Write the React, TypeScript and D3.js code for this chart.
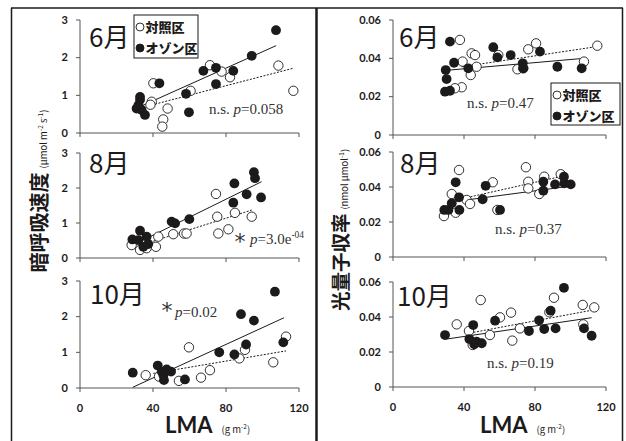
import React from 'react'
import * as d3 from 'd3'

// LMA (g m-2) vs value
const lmaTicks = [0, 40, 80, 120]
const respTicks = [0, 1, 2, 3]
const qyTicks = [0, 0.02, 0.04, 0.06]

const junRespCtrl = [[40.2, 1.32], [39.3, 0.83], [38.6, 0.75], [45.6, 0.36], [45.1, 0.17], [48.0, 0.65], [60.6, 1.12], [71.2, 1.8], [77.6, 1.63], [82.2, 1.48], [108.7, 1.79], [116.9, 1.12]]
const junRespOzone = [[32.9, 0.88], [32.0, 0.74], [31.0, 0.65], [32.9, 0.96], [33.8, 0.61], [35.6, 0.48], [43.5, 1.32], [58.1, 1.04], [59.7, 0.55], [67.6, 1.65], [74.5, 1.73], [74.5, 1.3], [84.0, 1.65], [94.1, 2.05], [107.4, 2.73]]
const junRespTrendCtrl = [[37.4, 0.72], [116.9, 1.72]]
const junRespTrendOzone = [[32.9, 0.7], [107.5, 2.32]]

const junQyCtrl = [[37.7, 0.0496], [39.2, 0.0383], [38.7, 0.0249], [34.9, 0.0244], [44.3, 0.0426], [46.2, 0.0417], [47.1, 0.0356], [43.8, 0.0313], [59.3, 0.0417], [70.1, 0.0343], [76.2, 0.0447], [80.6, 0.0478], [107.6, 0.0383], [115.1, 0.0466], [73.4, 0.0348]]
const junQyOzone = [[32.1, 0.0487], [29.7, 0.0339], [30.2, 0.0292], [29.3, 0.0226], [32.1, 0.0231], [34.4, 0.0377], [42.4, 0.0348], [56.5, 0.0458], [58.8, 0.0405], [66.3, 0.0417], [73.1, 0.0374], [73.4, 0.0348], [82.8, 0.0435], [92.6, 0.0356], [106.3, 0.0348]]
const junQyTrendCtrl = [[38.7, 0.0356], [114.8, 0.0461]]
const junQyTrendOzone = [[32.1, 0.0339], [107.6, 0.04]]

const augRespCtrl = [[28.3, 0.37], [32.9, 0.23], [36.5, 0.28], [41.6, 0.32], [42.9, 0.61], [51.1, 0.68], [57.0, 0.7], [58.4, 0.7], [74.5, 1.83], [75.2, 1.18], [75.8, 0.7], [81.3, 0.82], [84.9, 1.29], [94.1, 1.18]]
const augRespOzone = [[28.7, 0.53], [32.9, 0.78], [32.0, 0.51], [34.7, 0.32], [36.5, 0.61], [37.4, 0.4], [50.2, 1.04], [52.1, 0.99], [59.9, 1.11], [84.0, 1.58], [84.6, 2.13], [91.3, 1.82], [95.3, 2.45], [95.9, 2.28], [99.2, 1.73]]
const augRespTrendCtrl = [[36.5, 0.42], [94.1, 1.37]]
const augRespTrendOzone = [[32.9, 0.47], [99.5, 2.18]]

const augQyCtrl = [[28.7, 0.0234], [33.1, 0.036], [35.3, 0.0253], [37.2, 0.0497], [41.5, 0.0326], [43.4, 0.0303], [56.2, 0.0427], [58.8, 0.0269], [74.9, 0.0513], [76.2, 0.043], [76.2, 0.0392], [82.4, 0.036], [85.2, 0.0459], [94.5, 0.0473]]
const augQyOzone = [[28.9, 0.0269], [31.2, 0.0269], [33.1, 0.0307], [35.3, 0.0427], [37.2, 0.0341], [37.4, 0.0269], [50.5, 0.033], [52.2, 0.0407], [60.3, 0.0269], [84.7, 0.043], [84.7, 0.0379], [91.3, 0.0415], [96.3, 0.0459], [96.5, 0.0421], [100.1, 0.0415]]
const augQyTrendCtrl = [[34.0, 0.0322], [95.9, 0.0463]]
const augQyTrendOzone = [[34.0, 0.0316], [100.7, 0.0406]]

const octRespCtrl = [[36.0, 0.36], [43.3, 0.32], [54.2, 0.2], [59.7, 1.14], [66.3, 0.29], [71.2, 0.5], [87.3, 0.83], [90.4, 1.07], [105.9, 0.72], [112.9, 1.44]]
const octRespOzone = [[28.9, 0.43], [42.6, 0.63], [44.8, 0.46], [45.7, 0.36], [46.0, 0.22], [47.5, 0.52], [49.9, 0.46], [57.5, 0.24], [76.3, 1.0], [84.6, 0.94], [88.2, 2.07], [91.0, 1.22], [95.3, 1.89], [106.8, 2.7], [111.4, 1.28]]
const octRespTrendCtrl = [[40.2, 0.41], [112.9, 1.04]]
const octRespTrendOzone = [[28.9, 0.02], [111.8, 1.97]]

const octQyCtrl = [[35.9, 0.0358], [42.8, 0.032], [44.9, 0.024], [49.4, 0.0497], [54.6, 0.0297], [60.3, 0.0398], [66.5, 0.0425], [67.2, 0.0265], [71.5, 0.0335], [88.1, 0.0427], [90.7, 0.051], [106.9, 0.0469], [107.2, 0.0358], [113.4, 0.0455]]
const octQyOzone = [[29.3, 0.0297], [43.0, 0.0274], [45.2, 0.0354], [45.8, 0.0244], [47.1, 0.0259], [50.0, 0.025], [57.5, 0.0379], [76.6, 0.032], [82.3, 0.0381], [85.2, 0.0331], [88.8, 0.0436], [91.6, 0.0335], [96.3, 0.0567], [107.6, 0.0335], [111.9, 0.0293]]
const octQyTrendCtrl = [[41.5, 0.0305], [113.8, 0.0442]]
const octQyTrendOzone = [[30.2, 0.0274], [111.9, 0.0396]]

const legendLabels = ['対照区', 'オゾン区']

const W = 626
const H = 441
const jp = '"Noto Sans CJK JP", sans-serif'
const tickFont = 'Lato, "Open Sans", sans-serif'
const serif = '"Liberation Serif", "DejaVu Serif", serif'
const ink = '#1c1a1a'

type Pt = number[]
type Panel = {
  month: string
  x0: number
  x1: number
  yTop: number
  yBot: number
  ticks: number[]
  fmt: (v: number) => string
  ctrl: Pt[]
  ozone: Pt[]
  trendCtrl: Pt[]
  trendOzone: Pt[]
  showX: boolean
  monthPos: [number, number]
  stat: { x: number; y: number; ns: boolean; p: string; sup?: string; star?: [number, number] }
  legend?: [number, number, number, number]
}

const respFmt = (v: number) => String(v)
const qyFmt = (v: number) => (v === 0 ? '0' : v.toFixed(2))

const panels: Panel[] = [
  { month: '6月', x0: 80, x1: 299, yTop: 20, yBot: 133, ticks: respTicks, fmt: respFmt, ctrl: junRespCtrl, ozone: junRespOzone, trendCtrl: junRespTrendCtrl, trendOzone: junRespTrendOzone, showX: false, monthPos: [89, 47], stat: { x: 209, y: 114, ns: true, p: '0.058' }, legend: [134, 15, 64, 43] },
  { month: '6月', x0: 393, x1: 606, yTop: 20, yBot: 135, ticks: qyTicks, fmt: qyFmt, ctrl: junQyCtrl, ozone: junQyOzone, trendCtrl: junQyTrendCtrl, trendOzone: junQyTrendOzone, showX: false, monthPos: [399, 47], stat: { x: 467, y: 108, ns: true, p: '0.47' }, legend: [551, 83, 69, 42] },
  { month: '8月', x0: 80, x1: 299, yTop: 153, yBot: 258, ticks: respTicks, fmt: respFmt, ctrl: augRespCtrl, ozone: augRespOzone, trendCtrl: augRespTrendCtrl, trendOzone: augRespTrendOzone, showX: false, monthPos: [89, 173], stat: { x: 250, y: 244, ns: false, p: '3.0e', sup: '-04', star: [240, 249] } },
  { month: '8月', x0: 393, x1: 606, yTop: 152, yBot: 257, ticks: qyTicks, fmt: qyFmt, ctrl: augQyCtrl, ozone: augQyOzone, trendCtrl: augQyTrendCtrl, trendOzone: augQyTrendOzone, showX: false, monthPos: [400, 173], stat: { x: 495, y: 234, ns: true, p: '0.37' } },
  { month: '10月', x0: 80, x1: 299, yTop: 281, yBot: 388, ticks: respTicks, fmt: respFmt, ctrl: octRespCtrl, ozone: octRespOzone, trendCtrl: octRespTrendCtrl, trendOzone: octRespTrendOzone, showX: true, monthPos: [90, 304], stat: { x: 175, y: 317, ns: false, p: '0.02', star: [167, 318] } },
  { month: '10月', x0: 393, x1: 606, yTop: 282, yBot: 387, ticks: qyTicks, fmt: qyFmt, ctrl: octQyCtrl, ozone: octQyOzone, trendCtrl: octQyTrendCtrl, trendOzone: octQyTrendOzone, showX: true, monthPos: [397, 306], stat: { x: 487, y: 368, ns: true, p: '0.19' } },
]

function PanelView({ p }: { p: Panel }) {
  const x = d3.scaleLinear().domain([0, 120]).range([p.x0, p.x1])
  const y = d3.scaleLinear().domain([0, p.ticks[p.ticks.length - 1]]).range([p.yBot, p.yTop])
  const line = d3.line<Pt>().x((d) => x(d[0])).y((d) => y(d[1]))
  return (
    <g>
      {/* axes */}
      <line x1={p.x0} x2={p.x1} y1={p.yBot} y2={p.yBot} stroke="#555" strokeWidth={1} />
      <line x1={p.x0} x2={p.x0} y1={p.yTop} y2={p.yBot} stroke="#555" strokeWidth={1} />
      {p.ticks.map((t) => (
        <g key={'y' + t}>
          <line x1={p.x0 - 4} x2={p.x0} y1={y(t)} y2={y(t)} stroke="#555" />
          <text x={p.x0 - 12} y={y(t) + 3.8} textAnchor="end" fontFamily={tickFont} fontWeight={700} fontSize={11} fill={ink}>
            {p.fmt(t)}
          </text>
        </g>
      ))}
      {lmaTicks.map((t) => (
        <g key={'x' + t}>
          <line x1={x(t)} x2={x(t)} y1={p.yBot} y2={p.yBot + 4} stroke="#555" />
          {p.showX && (
            <text x={x(t)} y={p.yBot + 24} textAnchor="middle" fontFamily={tickFont} fontWeight={700} fontSize={11} fill={ink}>
              {t}
            </text>
          )}
        </g>
      ))}
      {/* trend lines */}
      <path d={line(p.trendCtrl) || ''} fill="none" stroke={ink} strokeWidth={1} strokeDasharray="2,1.5" />
      <path d={line(p.trendOzone) || ''} fill="none" stroke={ink} strokeWidth={1} />
      {/* points */}
      {p.ctrl.map((d, i) => (
        <circle key={'c' + i} cx={x(d[0])} cy={y(d[1])} r={4.7} fill="#fff" stroke={ink} strokeWidth={0.9} />
      ))}
      {p.ozone.map((d, i) => (
        <circle key={'o' + i} cx={x(d[0])} cy={y(d[1])} r={4.9} fill={ink} />
      ))}
      <text x={p.monthPos[0]} y={p.monthPos[1]} fontFamily={jp} fontSize={26} fill={ink}>
        {p.month}
      </text>
      {p.stat.star && (
        <text x={p.stat.star[0]} y={p.stat.star[1]} textAnchor="middle" fontFamily="DejaVu Sans, sans-serif" fontSize={22} fill="#333">
          *
        </text>
      )}
      <text x={p.stat.x} y={p.stat.y} fontFamily={serif} fontSize={15} fill="#333">
        {p.stat.ns ? 'n.s. ' : ''}
        <tspan fontStyle="italic">p</tspan>={p.stat.p}
        {p.stat.sup && (
          <tspan fontSize={9.5} dy={-6}>
            {p.stat.sup}
          </tspan>
        )}
      </text>
      {p.legend && (
        <g>
          <rect x={p.legend[0]} y={p.legend[1]} width={p.legend[2]} height={p.legend[3]} fill="#fff" stroke={ink} strokeWidth={1} />
          {legendLabels.map((lab, i) => {
            const cy = p.legend![1] + 12 + i * 21
            return (
              <g key={lab}>
                <circle cx={p.legend![0] + 6} cy={cy} r={4} fill={i === 0 ? '#fff' : ink} stroke={ink} strokeWidth={0.9} />
                <text x={p.legend![0] + 11.5} y={cy + 4.6} fontFamily={jp} fontWeight={900} fontSize={13} fill={ink}>
                  {lab}
                </text>
              </g>
            )
          })}
        </g>
      )}
    </g>
  )
}

export default function App() {
  return (
    <svg width={W} height={H} viewBox={`0 0 ${W} ${H}`} style={{ position: 'absolute', left: 0, top: 0, background: '#fff' }}>
      <rect width={W} height={H} fill="#fff" />
      {/* frames */}
      <line x1={11} x2={623} y1={8} y2={8} stroke={ink} strokeWidth={1.5} />
      <line x1={11.5} x2={11.5} y1={8} y2={H} stroke={ink} strokeWidth={1.5} />
      <line x1={316.5} x2={316.5} y1={8} y2={H} stroke={ink} strokeWidth={2.5} />
      <line x1={622.5} x2={622.5} y1={8} y2={H} stroke={ink} strokeWidth={1.5} />
      {panels.map((p, i) => (
        <PanelView key={i} p={p} />
      ))}
      {/* y labels */}
      <text transform="translate(47,191) rotate(-90)" textAnchor="middle" fill={ink} fontFamily={jp}>
        <tspan fontSize={20} fontWeight={700}>暗呼吸速度</tspan>
        <tspan fontSize={9.5} dx={4}>(μmol m</tspan>
        <tspan fontSize={6.5} dy={-4}>-2</tspan>
        <tspan fontSize={9.5} dy={4}> s</tspan>
        <tspan fontSize={6.5} dy={-4}>-1</tspan>
        <tspan fontSize={9.5} dy={4}>)</tspan>
      </text>
      <text transform="translate(348,230) rotate(-90)" textAnchor="middle" fill={ink} fontFamily={jp}>
        <tspan fontSize={19.5} fontWeight={700}>光量子収率</tspan>
        <tspan fontSize={9.5} dx={4}>(nmol μmol</tspan>
        <tspan fontSize={6.5} dy={-4}>-1</tspan>
        <tspan fontSize={9.5} dy={4}>)</tspan>
      </text>
      {/* x labels */}
      {[165, 480].map((lx) => (
        <text key={lx} x={lx} y={433} fill={ink}>
          <tspan fontFamily={tickFont} fontWeight={700} fontSize={22}>LMA</tspan>
          <tspan fontFamily={jp} fontSize={9.5} dx={9}>(g m</tspan>
          <tspan fontFamily={jp} fontSize={6.5} dy={-4}>-2</tspan>
          <tspan fontFamily={jp} fontSize={9.5} dy={4}>)</tspan>
        </text>
      ))}
    </svg>
  )
}
